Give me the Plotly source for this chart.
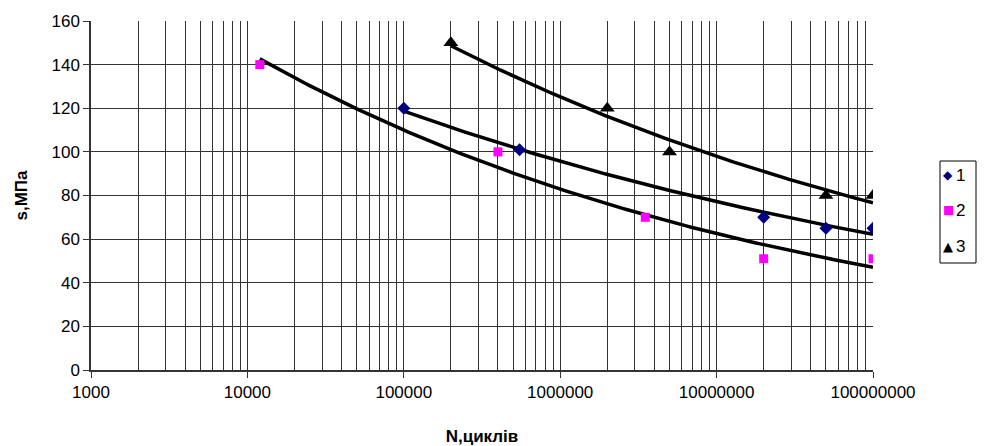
import numpy as np
import plotly.graph_objects as go

# Fatigue test results: number of cycles N and stress s (MPa) for three series
n1 = [1e5, 5.5e5, 2e7, 5e7, 1e8]
s1 = [120, 101, 70, 65, 65]

n2 = [1.2e4, 4e5, 3.5e6, 2e7, 1e8]
s2 = [140, 100, 70, 51, 51]

n3 = [2e5, 2e6, 5e6, 5e7, 1e8]
s3 = [150, 120, 100, 80, 80]

series_names = ["1", "2", "3"]
x_tick_vals = [1e3, 1e4, 1e5, 1e6, 1e7, 1e8]
x_tick_text = ["1000", "10000", "100000", "1000000", "10000000", "100000000"]
y_tick_vals = [0, 20, 40, 60, 80, 100, 120, 140, 160]

colors = ["#000080", "#FF00FF", "#000000"]
symbols = ["diamond", "square", "triangle-up"]
marker_sizes = [10, 9, 13]
legend_glyphs = ["\u25C6", "\u25A0", "\u25B2"]

L, R, T, B = 91, 112, 21, 76
W, H = 985, 446
pw, ph = W - L - R, H - T - B
FONT = "Liberation Sans, Arial"


def power_trend(x, y, num=200):
    """Least-squares power fit y = a * x^b, evaluated over the data range."""
    lx, ly = np.log(x), np.log(y)
    b, la = np.polyfit(lx, ly, 1)
    xs = np.logspace(np.log10(min(x)), np.log10(max(x)), num)
    return xs, np.exp(la) * xs ** b


fig = go.Figure()
data = [(n1, s1), (n2, s2), (n3, s3)]

# power trendlines
for x, y in data:
    xs, ys = power_trend(x, y)
    fig.add_trace(go.Scatter(x=xs, y=ys, mode="lines",
                             line=dict(color="black", width=3.5),
                             showlegend=False, hoverinfo="skip"))

# measured points
for (x, y), name, c, sym, sz in zip(data, series_names, colors, symbols, marker_sizes):
    fig.add_trace(go.Scatter(x=x, y=y, mode="markers", name=name,
                             marker=dict(color=c, symbol=sym, size=sz,
                                         line=dict(width=0)),
                             showlegend=False))

minor_vals = [k * 10 ** d for d in range(3, 8) for k in range(2, 10)]
grid_c = "#333333"

fig.update_xaxes(
    type="log", range=[3, 8], automargin=False,
    tickmode="array", tickvals=x_tick_vals, ticktext=x_tick_text,
    ticks="outside", ticklen=6, tickcolor="#333", tickwidth=1,
    showgrid=True, gridcolor=grid_c, gridwidth=1,
    minor=dict(tickmode="array", tickvals=minor_vals, showgrid=True,
               gridcolor=grid_c, gridwidth=1, ticks=""),
    showline=True, linecolor="#333", linewidth=1.5,
    zeroline=False,
    tickfont=dict(family=FONT, size=17, color="black"),
    title=dict(text="<b>N,циклів</b>", standoff=32,
               font=dict(family=FONT, size=17, color="black")),
)
fig.update_yaxes(
    range=[0, 160], tickmode="array", tickvals=y_tick_vals, automargin=False,
    ticks="outside", ticklen=6, tickcolor="#333", tickwidth=1,
    showgrid=True, gridcolor=grid_c, gridwidth=1,
    showline=True, linecolor="#333", linewidth=1.5,
    zeroline=False,
    tickfont=dict(family=FONT, size=17, color="black"),
    title=dict(text="<b>s,МПа</b>", standoff=20,
               font=dict(family=FONT, size=17, color="black")),
)


def px_to_paper_x(px):
    return (px - L) / pw


def px_to_paper_y(py):
    return (H - B - py) / ph


# legend box drawn in paper coordinates
fig.add_shape(type="rect", xref="paper", yref="paper",
              x0=px_to_paper_x(940), x1=px_to_paper_x(976),
              y0=px_to_paper_y(263), y1=px_to_paper_y(161),
              line=dict(color="black", width=1), fillcolor="white")

legend_rows = [175, 210, 246]
glyph_sizes = [12, 12, 13]
for row, name, c, g, gs in zip(legend_rows, series_names, colors, legend_glyphs, glyph_sizes):
    fig.add_annotation(xref="paper", yref="paper",
                       x=px_to_paper_x(948), y=px_to_paper_y(row),
                       text=g, showarrow=False, xanchor="center", yanchor="middle",
                       font=dict(family="DejaVu Sans", size=gs, color=c))
    fig.add_annotation(xref="paper", yref="paper",
                       x=px_to_paper_x(954), y=px_to_paper_y(row),
                       text=name, showarrow=False, xanchor="left", yanchor="middle",
                       font=dict(family=FONT, size=17, color="black"))

fig.update_layout(
    width=W, height=H,
    margin=dict(l=L, r=R, t=T, b=B),
    paper_bgcolor="white", plot_bgcolor="white",
    showlegend=False,
)

fig.write_html("out.html")
